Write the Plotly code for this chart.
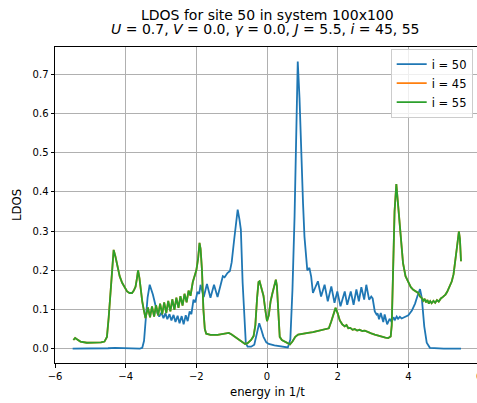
import plotly.graph_objects as go

# Local density of states around site 50 of a 100x100 lattice
energy_50 = [-5.5, -5.0, -4.5, -4.3, -4.1, -3.8, -3.6, -3.53, -3.48, -3.44, -3.38, -3.32,
             -3.27, -3.23, -3.15, -3.1, -3.05, -2.99, -2.93, -2.875, -2.82, -2.76, -2.705,
             -2.645, -2.59, -2.53, -2.475, -2.415, -2.36, -2.3, -2.245, -2.19, -2.14, -2.08,
             -2.03, -1.97, -1.92, -1.88, -1.79, -1.7, -1.6, -1.5, -1.4, -1.31, -1.25, -1.2,
             -1.12, -1.05, -1.0, -0.93, -0.87, -0.83, -0.78, -0.74, -0.69, -0.64, -0.6, -0.55,
             -0.45, -0.36, -0.29, -0.22, -0.16, -0.1, -0.02, 0.05, 0.21, 0.4, 0.59, 0.66, 0.72,
             0.78, 0.83, 0.87, 0.92, 0.97, 1.02, 1.06, 1.1, 1.14, 1.2, 1.25, 1.3, 1.37, 1.44,
             1.53, 1.63, 1.72, 1.82, 1.91, 1.99, 2.08, 2.2, 2.27, 2.37, 2.45, 2.53, 2.6, 2.67,
             2.75, 2.81, 2.89, 2.95, 2.99, 3.05, 3.1, 3.13, 3.17, 3.22, 3.29, 3.33, 3.4, 3.47,
             3.53, 3.58, 3.62, 3.67, 3.71, 3.76, 3.81, 3.9, 4.0, 4.1, 4.19, 4.26, 4.33, 4.38,
             4.45, 4.52, 4.61, 5.0, 5.49]
ldos_50 = [0.0, 0.0, 0.001, 0.002, 0.001, 0.0, 0.0, 0.002, 0.02, 0.066, 0.13, 0.163,
           0.15, 0.138, 0.108, 0.09, 0.082, 0.092, 0.078, 0.09, 0.075, 0.088, 0.072,
           0.086, 0.068, 0.084, 0.065, 0.083, 0.062, 0.085, 0.07, 0.095, 0.088, 0.125,
           0.118, 0.145, 0.14, 0.163, 0.132, 0.165, 0.13, 0.163, 0.132, 0.168, 0.185, 0.182,
           0.193, 0.198, 0.22, 0.278, 0.33, 0.355, 0.33, 0.304, 0.168, 0.06, 0.014, 0.005,
           0.005, 0.01, 0.035, 0.065, 0.048, 0.03, 0.016, 0.012, 0.008, 0.005, 0.003, 0.023, 0.15,
           0.338, 0.56, 0.733, 0.64, 0.49, 0.37, 0.286, 0.23, 0.2, 0.206, 0.184, 0.142, 0.158, 0.172,
           0.133, 0.163, 0.121, 0.159, 0.117, 0.146, 0.108, 0.146, 0.112, 0.146, 0.112, 0.151, 0.121, 0.157,
           0.125, 0.163, 0.125, 0.133, 0.128, 0.095, 0.087, 0.09, 0.075, 0.091, 0.068, 0.087, 0.062, 0.076,
           0.068, 0.08, 0.074, 0.082, 0.076, 0.081, 0.077, 0.08, 0.085, 0.097, 0.115, 0.135, 0.152, 0.13,
           0.057, 0.015, 0.002, 0.0, 0.0]

energy_55 = [-5.48, -5.43, -5.38, -5.28, -5.1, -4.9, -4.7, -4.6, -4.53, -4.48, -4.43, -4.38,
             -4.34, -4.29, -4.24, -4.17, -4.1, -4.03, -3.96, -3.89, -3.82, -3.77, -3.72, -3.68,
             -3.65, -3.61, -3.58, -3.53, -3.49, -3.44, -3.37, -3.31, -3.255, -3.195, -3.14,
             -3.08, -3.025, -2.965, -2.91, -2.85, -2.795, -2.735, -2.68, -2.62, -2.565, -2.505,
             -2.45, -2.39, -2.335, -2.275, -2.22, -2.165, -2.1, -2.06, -2.0, -1.95, -1.91, -1.88,
             -1.84, -1.8, -1.76, -1.72, -1.6, -1.4, -1.2, -1.08, -1.0, -0.9, -0.8, -0.7, -0.62,
             -0.55, -0.45, -0.38, -0.33, -0.28, -0.24, -0.21, -0.16, -0.1, -0.05, 0.0, 0.05, 0.1,
             0.15, 0.2, 0.25, 0.28, 0.32, 0.36, 0.42, 0.5, 0.6, 0.65, 0.72, 0.8, 0.88, 1.0, 1.16,
             1.3, 1.45, 1.6, 1.75, 1.82, 1.88, 1.94, 2.0, 2.06, 2.13, 2.2, 2.25, 2.3, 2.36, 2.42,
             2.48, 2.55, 2.62, 2.7, 2.77, 2.85, 2.95, 3.05, 3.15, 3.25, 3.35, 3.43, 3.5, 3.53,
             3.57, 3.61, 3.66, 3.7, 3.76, 3.85, 3.92, 4.0, 4.07, 4.14, 4.21, 4.28, 4.33, 4.38,
             4.42, 4.46, 4.5, 4.54, 4.58, 4.62, 4.66, 4.71, 4.76, 4.81, 4.86, 4.92, 4.98, 5.05,
             5.1, 5.17, 5.23, 5.28, 5.33, 5.38, 5.43, 5.46, 5.49]
ldos_55 = [0.022, 0.027, 0.024, 0.018, 0.015, 0.015, 0.016, 0.018, 0.03, 0.08, 0.15, 0.225,
           0.252, 0.235, 0.21, 0.185, 0.168, 0.155, 0.146, 0.142, 0.142, 0.148, 0.158, 0.18,
           0.2, 0.18, 0.155, 0.12, 0.1, 0.078, 0.105, 0.08, 0.108, 0.082, 0.111,
           0.085, 0.115, 0.088, 0.118, 0.091, 0.122, 0.095, 0.126, 0.099, 0.13, 0.104,
           0.134, 0.11, 0.14, 0.118, 0.148, 0.135, 0.17, 0.184, 0.2, 0.23, 0.27, 0.255,
           0.2, 0.1, 0.05, 0.038, 0.035, 0.035, 0.037, 0.04, 0.036, 0.03, 0.024, 0.018, 0.012,
           0.014, 0.022, 0.032, 0.06, 0.13, 0.17, 0.172, 0.155, 0.135, 0.1, 0.07, 0.085, 0.12,
           0.14, 0.16, 0.176, 0.16, 0.08, 0.03, 0.022, 0.018, 0.012, 0.011, 0.018, 0.03, 0.036, 0.037, 0.04,
           0.042, 0.045, 0.048, 0.052, 0.07, 0.09, 0.104, 0.09, 0.072, 0.062, 0.057, 0.06, 0.052, 0.053, 0.048,
           0.05, 0.046, 0.048, 0.045, 0.046, 0.042, 0.039, 0.036, 0.033, 0.03, 0.028, 0.027, 0.031, 0.06,
           0.2, 0.35, 0.42, 0.38, 0.3, 0.218, 0.185, 0.168, 0.157, 0.15, 0.146, 0.142, 0.133, 0.129,
           0.122, 0.127, 0.118, 0.124, 0.115, 0.121, 0.116, 0.122, 0.117, 0.124, 0.12, 0.128, 0.132, 0.138,
           0.145, 0.158, 0.172, 0.19, 0.22, 0.262, 0.299, 0.28, 0.223]

# Sites 45 and 55 are mirror images of each other about site 50
energy_45 = list(energy_55)
ldos_45 = list(ldos_55)

series = [
    ("i = 50", energy_50, ldos_50, "#1f77b4"),
    ("i = 45", energy_45, ldos_45, "#ff7f0e"),
    ("i = 55", energy_55, ldos_55, "#2ca02c"),
]

x_ticks = [-6, -4, -2, 0, 2, 4]
y_ticks = [0.0, 0.1, 0.2, 0.3, 0.4, 0.5, 0.6, 0.7]

FONT = "DejaVu Sans"

fig = go.Figure()
for name, e, v, color in series:
    fig.add_trace(go.Scatter(x=e, y=v, mode="lines", name=name,
                             line=dict(color=color, width=1.8)))

W, H = 477, 403
L, R, T, B = 55, 0, 47, 40
plot_w = W - L - R
plot_h = H - T - B

axis_common = dict(showgrid=True, gridcolor="#b0b0b0", gridwidth=0.8,
                   showline=True, linecolor="black", linewidth=1,
                   ticks="outside", ticklen=3.5, tickcolor="black", tickwidth=0.8,
                   tickfont=dict(family=FONT, size=10, color="black"),
                   zeroline=False)

fig.update_layout(
    width=W, height=H,
    margin=dict(l=L, r=R, t=T, b=B),
    paper_bgcolor="white", plot_bgcolor="white",
    font=dict(family=FONT, color="black"),
    xaxis=dict(range=[-6, 5.943], tickvals=x_ticks,
               ticktext=["\u22126", "\u22124", "\u22122", "0", "2", "4"],
               mirror=True, **axis_common),
    yaxis=dict(range=[-0.0367, 0.770], tickvals=y_ticks, tickformat=".1f",
               **axis_common),
    legend=dict(x=0.9898, y=0.995, xanchor="right", yanchor="top",
                bgcolor="rgba(255,255,255,0.8)", bordercolor="#cccccc",
                borderwidth=1, font=dict(family=FONT, size=11.5, color="black"),
                tracegroupgap=0, itemwidth=30),
    showlegend=True,
)

def py(px):
    return 1 - (px - T) / plot_h

def px_(x):
    return (x - L) / plot_w

annotations = [
    dict(text="LDOS for site 50 in system 100x100", x=px_(267), y=py(15.5),
         font=dict(family=FONT, size=14)),
    dict(text="<i>U</i> = 0.7, <i>V</i> = 0.0, <i>\u03b3</i> = 0.0, <i>J</i> = 5.5, <i>i</i> = 45, 55",
         x=px_(265), y=py(29.5), font=dict(family=FONT, size=14)),
    dict(text="energy in 1/t", x=px_(267), y=py(392), font=dict(family=FONT, size=11.7)),
    dict(text="LDOS", x=px_(17), y=py(205), textangle=-90, font=dict(family=FONT, size=11.7)),
    dict(text="6", x=px_(479), y=py(376), font=dict(family=FONT, size=10)),
]
for a in annotations:
    fig.add_annotation(xref="paper", yref="paper", showarrow=False,
                       xanchor="center", yanchor="middle", **a)

fig.write_html("out.html")
